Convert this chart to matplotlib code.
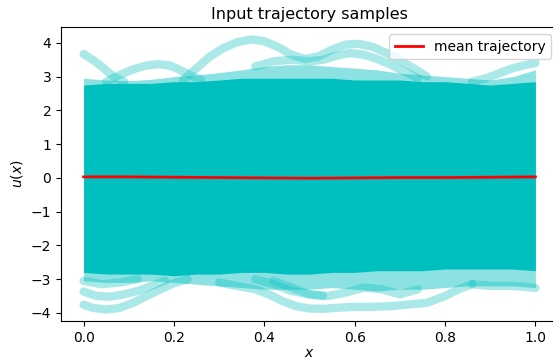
import numpy as np
import matplotlib
matplotlib.use("Agg")
import matplotlib.pyplot as plt

# sample grid for the dense body of trajectories
x_knots = [0.0, 0.05, 0.1, 0.15, 0.2, 0.25, 0.3, 0.35, 0.4, 0.45, 0.5,
           0.55, 0.6, 0.65, 0.7, 0.75, 0.8, 0.85, 0.9, 0.95, 1.0]
core_top = [2.75, 2.8, 2.8, 2.8, 2.85, 2.85, 2.9, 2.95, 2.95, 2.95, 2.95,
            2.95, 2.9, 2.9, 2.9, 2.85, 2.85, 2.8, 2.75, 2.8, 2.85]
fringe_top = [2.95, 2.9, 2.88, 2.92, 3.0, 3.05, 3.12, 3.2, 3.3, 3.35, 3.35,
              3.3, 3.25, 3.2, 3.1, 3.05, 3.0, 2.95, 2.9, 3.0, 3.2]
core_bottom = [-2.8, -2.85, -2.85, -2.85, -2.9, -2.85, -2.85, -2.8, -2.8, -2.85, -2.85,
               -2.8, -2.8, -2.75, -2.75, -2.75, -2.7, -2.7, -2.7, -2.7, -2.75]
fringe_bottom = [-3.05, -3.1, -3.1, -3.05, -3.1, -3.15, -3.2, -3.25, -3.3, -3.3, -3.3,
                 -3.25, -3.3, -3.35, -3.3, -3.3, -3.25, -3.2, -3.2, -3.2, -3.25]

# individual extreme samples sticking out of the bulk (x, u)
upper_a_x = [0.0, 0.02, 0.04, 0.066, 0.09]
upper_a_u = [3.67, 3.5, 3.3, 3.0, 2.85]
upper_b_x = [0.05, 0.08, 0.11, 0.14, 0.165, 0.19, 0.21, 0.235, 0.26]
upper_b_u = [2.85, 3.05, 3.22, 3.33, 3.37, 3.33, 3.22, 3.05, 2.9]
upper_c_x = [0.22, 0.25, 0.28, 0.31, 0.34, 0.37, 0.40, 0.43, 0.46, 0.49,
             0.52, 0.55, 0.58, 0.61, 0.64, 0.67, 0.70, 0.73, 0.76]
upper_c_u = [2.9, 3.25, 3.6, 3.85, 4.02, 4.1, 4.05, 3.88, 3.65, 3.52,
             3.6, 3.8, 3.95, 3.97, 3.88, 3.7, 3.48, 3.25, 3.0]
upper_d_x = [0.38, 0.42, 0.46, 0.5, 0.53, 0.56, 0.59, 0.62, 0.65, 0.68, 0.71, 0.74]
upper_d_u = [3.3, 3.45, 3.5, 3.45, 3.5, 3.62, 3.7, 3.65, 3.52, 3.35, 3.15, 2.95]
upper_e_x = [0.86, 0.89, 0.92, 0.95, 0.98, 1.0]
upper_e_u = [2.85, 2.95, 3.1, 3.25, 3.35, 3.4]

lower_a_x = [0.0, 0.02, 0.05, 0.08, 0.11, 0.14, 0.17, 0.2, 0.23]
lower_a_u = [-3.76, -3.85, -3.9, -3.85, -3.7, -3.5, -3.3, -3.12, -3.0]
lower_b_x = [0.0, 0.03, 0.06, 0.09, 0.12, 0.15, 0.18]
lower_b_u = [-3.37, -3.5, -3.52, -3.45, -3.35, -3.2, -3.05]
lower_c_x = [0.0, 0.04, 0.08, 0.12]
lower_c_u = [-3.05, -3.15, -3.1, -3.0]
lower_d_x = [0.3, 0.34, 0.38, 0.41, 0.44, 0.47, 0.5, 0.53, 0.56, 0.6,
             0.64, 0.68, 0.72, 0.76, 0.8, 0.83, 0.86]
lower_d_u = [-3.1, -3.2, -3.3, -3.45, -3.65, -3.8, -3.87, -3.88, -3.85, -3.82,
             -3.82, -3.8, -3.75, -3.7, -3.5, -3.3, -3.15]
lower_e_x = [0.42, 0.46, 0.5, 0.54, 0.58, 0.62, 0.66, 0.7, 0.74]
lower_e_u = [-3.05, -3.25, -3.45, -3.5, -3.4, -3.25, -3.3, -3.45, -3.3]
lower_f_x = [0.38, 0.42, 0.46, 0.5, 0.53]
lower_f_u = [-3.0, -3.15, -3.35, -3.45, -3.5]
lower_g_x = [0.86, 0.9, 0.94, 0.97, 1.0]
lower_g_u = [-3.15, -3.2, -3.2, -3.22, -3.26]

mean_x = [0.0, 0.1, 0.2, 0.3, 0.4, 0.5, 0.6, 0.7, 0.8, 0.9, 1.0]
mean_u = [0.03, 0.03, 0.02, 0.01, 0.0, -0.01, 0.0, 0.01, 0.01, 0.02, 0.03]

outliers = [
    (upper_a_x, upper_a_u), (upper_b_x, upper_b_u), (upper_c_x, upper_c_u),
    (upper_d_x, upper_d_u), (upper_e_x, upper_e_u),
    (lower_a_x, lower_a_u), (lower_b_x, lower_b_u), (lower_c_x, lower_c_u),
    (lower_d_x, lower_d_u), (lower_e_x, lower_e_u), (lower_f_x, lower_f_u),
    (lower_g_x, lower_g_u),
]

fig = plt.figure(figsize=(5.53, 3.6), dpi=100)
ax = fig.add_axes([61 / 553, 39 / 360, 497 / 553, 294 / 360])

# bulk of the samples
ax.fill_between(x_knots, fringe_bottom, fringe_top, color='c', alpha=0.45, lw=0)
ax.fill_between(x_knots, core_bottom, core_top, color='c', lw=0)
for xs, us in outliers:
    ax.plot(xs, us, color='c', alpha=0.33, lw=6,
            solid_capstyle='round', solid_joinstyle='round')

ax.plot(mean_x, mean_u, color='r', lw=2, label='mean trajectory')

ax.set_xlim(-0.05, 1.05)
ax.set_ylim(-4.24, 4.47)
ax.set_xticks([0.0, 0.2, 0.4, 0.6, 0.8, 1.0])
ax.set_yticks([-4, -3, -2, -1, 0, 1, 2, 3, 4])
ax.set_xlabel('$x$', labelpad=1)
ax.set_ylabel('$u(x)$')
ax.set_title('Input trajectory samples', fontsize=11.5)
ax.legend(loc='upper right')

fig.savefig('out.png', dpi=100)
